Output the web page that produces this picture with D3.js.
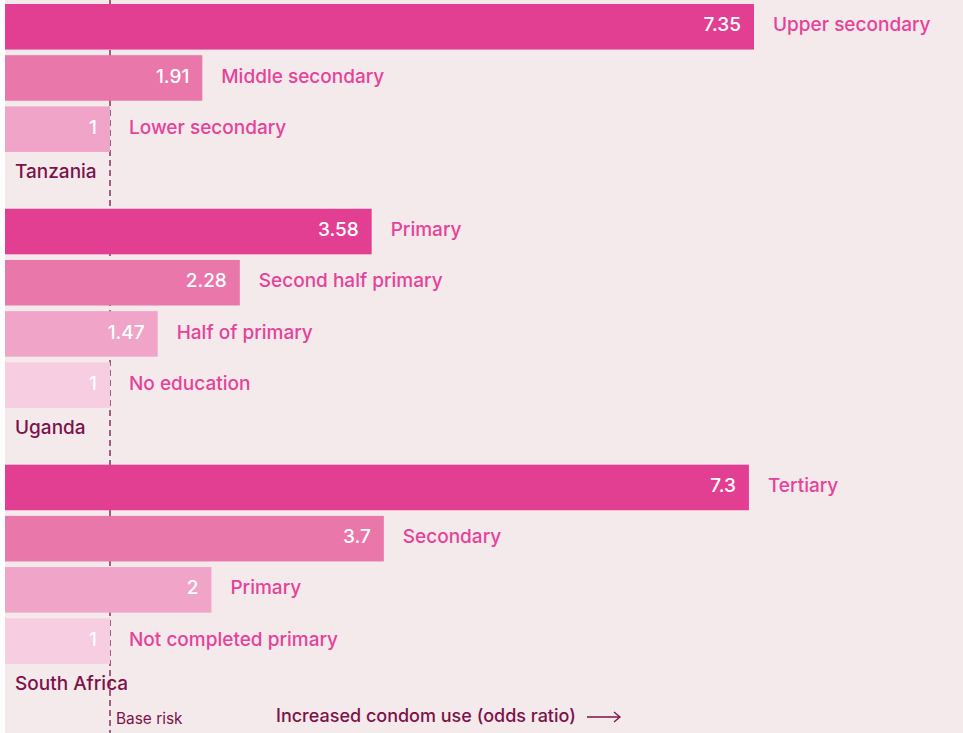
<!DOCTYPE html>
<html>
    <head>
        <script src="https://d3js.org/d3.v7.min.js"></script>
        <style>
            body {
                margin: 0;
                overflow: hidden;
                background: #fff;
            }
            text {
                font-family: Inter, 'Liberation Sans', Arial, sans-serif;
            }
        </style>
    </head>

    <body>
        <script>
            const countries = ['Tanzania', 'Uganda', 'South Africa'];
            const tanzaniaLevels = ['Upper secondary', 'Middle secondary', 'Lower secondary'];
            const tanzaniaValues = [7.35, 1.91, 1];
            const ugandaLevels = ['Primary', 'Second half primary', 'Half of primary', 'No education'];
            const ugandaValues = [3.58, 2.28, 1.47, 1];
            const southAfricaLevels = ['Tertiary', 'Secondary', 'Primary', 'Not completed primary'];
            const southAfricaValues = [7.3, 3.7, 2, 1];
            const shades = ['#e33f92', '#ea77aa', '#f0a4c7', '#f6cde1'];

            const width = 963;
            const height = 733;

            // one row per bar, plus one row per country label
            const groups = [
                { country: countries[0], levels: tanzaniaLevels, values: tanzaniaValues },
                { country: countries[1], levels: ugandaLevels, values: ugandaValues },
                { country: countries[2], levels: southAfricaLevels, values: southAfricaValues },
            ];
            const rows = [];
            groups.forEach((g) => {
                g.levels.forEach((level, i) => {
                    rows.push({ key: g.country + '|' + level, type: 'bar', level, value: g.values[i], shade: shades[i] });
                });
                rows.push({ key: g.country + '|label', type: 'label', country: g.country });
            });

            const svg = d3.select('body').append('svg').attr('width', width).attr('height', height);

            svg.append('rect').attr('x', 5).attr('y', 0).attr('width', width - 5).attr('height', height).attr('fill', '#f4e9eb');

            const x = d3.scaleLinear().domain([1, 7.35]).range([110, 754]);
            const y = d3
                .scaleBand()
                .domain(rows.map((r) => r.key))
                .range([4, 715])
                .paddingInner(0.11)
                .paddingOuter(0);

            // base risk line
            svg.append('line')
                .attr('x1', x(1))
                .attr('x2', x(1))
                .attr('y1', 0)
                .attr('y2', height)
                .attr('stroke', '#7c1249')
                .attr('stroke-width', 1.3)
                .attr('stroke-dasharray', '6,4');

            const barRows = rows.filter((r) => r.type === 'bar');
            const bar = svg.append('g').selectAll('g').data(barRows).join('g');

            bar.append('rect')
                .attr('x', 5)
                .attr('y', (d) => y(d.key))
                .attr('width', (d) => x(d.value) - 5)
                .attr('height', y.bandwidth())
                .attr('fill', (d) => d.shade);

            bar.append('text')
                .attr('x', (d) => x(d.value) - 13)
                .attr('y', (d) => y(d.key) + y.bandwidth() / 2 - 2)
                .attr('dy', '0.35em')
                .attr('text-anchor', 'end')
                .attr('fill', '#fff')
                .attr('font-size', 19)
                .attr('font-weight', 500)
                .text((d) => d.value);

            bar.append('text')
                .attr('x', (d) => x(d.value) + 19)
                .attr('y', (d) => y(d.key) + y.bandwidth() / 2 - 2)
                .attr('dy', '0.35em')
                .attr('fill', '#e5429a')
                .attr('font-size', 19)
                .attr('font-weight', 500)
                .text((d) => d.level);

            svg.append('g')
                .selectAll('text')
                .data(rows.filter((r) => r.type === 'label'))
                .join('text')
                .attr('x', 15)
                .attr('y', (d) => y(d.key) + y.bandwidth() / 2 - 9)
                .attr('dy', '0.35em')
                .attr('fill', '#7c1249')
                .attr('font-size', 19)
                .attr('font-weight', 500)
                .text((d) => d.country);

            svg.append('text')
                .attr('x', x(1) + 6)
                .attr('y', 724)
                .attr('fill', '#7c1249')
                .attr('font-size', 15.4)
                .text('Base risk');

            svg.append('text')
                .attr('x', 276)
                .attr('y', 722)
                .attr('fill', '#7c1249')
                .attr('font-size', 18)
                .attr('font-weight', 500)
                .text('Increased condom use (odds ratio)');

            const arrow = svg.append('g').attr('stroke', '#7c1249').attr('stroke-width', 1.3).attr('fill', 'none');
            arrow.append('line').attr('x1', 587).attr('x2', 620).attr('y1', 717).attr('y2', 717);
            arrow.append('path').attr('d', 'M614,712 L620,717 L614,722');
        </script>
    </body>
</html>
